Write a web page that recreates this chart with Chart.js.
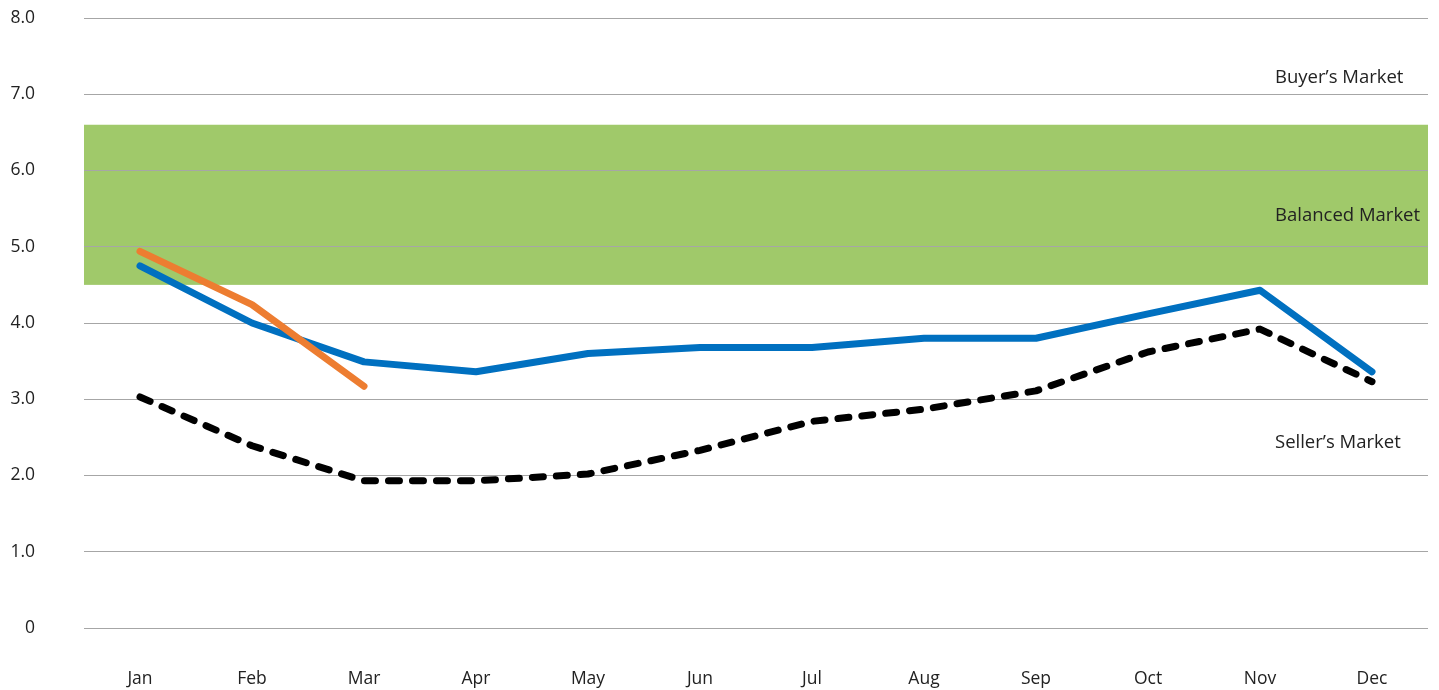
<!DOCTYPE html>
<html>
<head>
<meta charset="utf-8">
<script src="https://cdn.jsdelivr.net/npm/chart.js@4/dist/chart.umd.min.js"></script>
<style>
html,body{margin:0;padding:0;background:#fff;}
#wrap{width:1439px;height:690px;}
</style>
</head>
<body>
<div id="wrap"><canvas id="c" width="1439" height="690"></canvas></div>
<script>
const months = ['Jan','Feb','Mar','Apr','May','Jun','Jul','Aug','Sep','Oct','Nov','Dec'];
const seriesBlue = [4.75, 4.0, 3.49, 3.36, 3.6, 3.68, 3.68, 3.8, 3.8, 4.12, 4.43, 3.36];
const seriesOrange = [4.94, 4.24, 3.17, null, null, null, null, null, null, null, null, null];
const seriesBlackDashed = [3.03, 2.39, 1.93, 1.93, 2.02, 2.33, 2.71, 2.87, 3.11, 3.62, 3.92, 3.23];
const balancedBand = [4.5, 6.6];
const zoneLabels = ['Buyer\u2019s Market', 'Balanced Market', 'Seller\u2019s Market'];
const zoneLabelValues = [7.22, 5.41, 2.43];
const yTicks = [0,1,2,3,4,5,6,7,8];

const FONT = '"Open Sans", "Noto Sans", sans-serif';

const bandPlugin = {
  id: 'band',
  beforeDraw(chart) {
    const {ctx, chartArea, scales} = chart;
    const y = scales.y;
    const top = y.getPixelForValue(balancedBand[1]);
    const bot = y.getPixelForValue(balancedBand[0]);
    ctx.save();
    ctx.fillStyle = '#a0c96a';
    ctx.fillRect(chartArea.left, top, chartArea.right - chartArea.left, bot - top);
    ctx.restore();
  },
  afterDraw(chart) {
    const {ctx, scales} = chart;
    const y = scales.y;
    const x = scales.x;
    const lx = x.getPixelForValue(11) - 97;
    ctx.save();
    ctx.font = '18.5px ' + FONT;
    ctx.fillStyle = '#222';
    ctx.textAlign = 'left';
    ctx.textBaseline = 'middle';
    zoneLabels.forEach((t, i) => {
      ctx.fillText(t, lx, y.getPixelForValue(zoneLabelValues[i]));
    });
    ctx.restore();
  }
};

new Chart(document.getElementById('c'), {
  type: 'line',
  data: {
    labels: months,
    datasets: [
      {
        label: 'Blue',
        data: seriesBlue,
        borderColor: '#0070c0',
        borderWidth: 7,
        borderCapStyle: 'round',
        borderJoinStyle: 'round',
        pointRadius: 0,
        tension: 0,
        order: 2
      },
      {
        label: 'Orange',
        data: seriesOrange,
        borderColor: '#ed7d31',
        borderWidth: 7,
        borderCapStyle: 'round',
        borderJoinStyle: 'round',
        pointRadius: 0,
        tension: 0,
        spanGaps: false,
        order: 1
      },
      {
        label: 'Black',
        data: seriesBlackDashed,
        borderColor: '#000000',
        borderWidth: 7,
        borderDash: [11, 13],
        borderCapStyle: 'round',
        borderJoinStyle: 'round',
        pointRadius: 0,
        tension: 0,
        order: 3
      }
    ]
  },
  options: {
    responsive: false,
    animation: false,
    devicePixelRatio: 1,
    layout: { padding: { top: 18, right: 11, bottom: 0, left: 0 } },
    plugins: { legend: { display: false }, tooltip: { enabled: false } },
    scales: {
      x: {
        offset: true,
        grid: { display: false, drawTicks: false },
        border: { display: false },
        ticks: { color: '#222', font: { family: FONT, size: 17.5 }, padding: 41, maxRotation: 0 },
        afterFit(s) { s.height = 62; s.paddingLeft = 0; s.paddingRight = 0; }
      },
      y: {
        min: 0,
        max: 8,
        afterBuildTicks(s) { s.ticks = yTicks.map(v => ({ value: v })); },
        grid: { color: '#a6a6a6', lineWidth: 1, drawTicks: false },
        border: { display: false },
        ticks: {
          color: '#222',
          font: { family: FONT, size: 17.5 },
          padding: 49,
          callback: v => v === 0 ? '0' : Number(v).toFixed(1)
        },
        afterFit(s) { s.width = 84; s.paddingTop = 0; s.paddingBottom = 0; }
      }
    }
  },
  plugins: [bandPlugin]
});
</script>
</body>
</html>
